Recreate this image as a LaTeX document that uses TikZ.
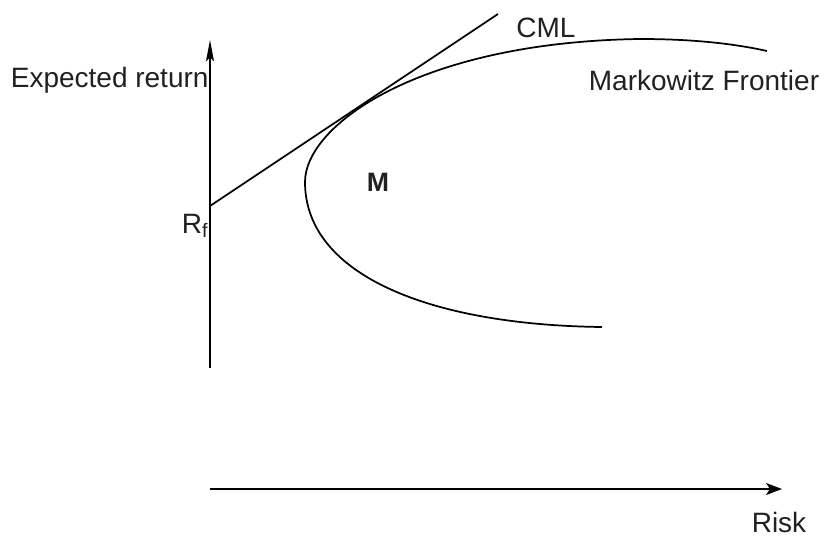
\documentclass[tikz,border=0pt]{standalone}
\usepackage{fontspec}
\setmainfont{Liberation Sans}
\usepackage{xcolor}
\usepackage{tikz}
\usetikzlibrary{arrows.meta,positioning,calc}

\definecolor{labelgray}{gray}{0.13}

\begin{document}
\begin{tikzpicture}[x=0.75pt, y=-0.75pt,
  line width=1.3pt,
  lbl/.style={text=labelgray, inner sep=0pt, font=\fontsize{21}{25}\selectfont},
  yaxis/.style={-{Stealth[length=16pt, width=6pt, inset=3pt]}},
  xaxis/.style={-{Stealth[length=12pt, width=9pt, inset=3pt]}}]
\useasboundingbox (0,0) rectangle (825,539);
% axes
\coordinate (ybot) at (210,368);
\coordinate (ytop) at (210,40);
\coordinate (xleft) at (210,489);
\coordinate (xright) at (782,489);
\draw[yaxis] (ybot) -- (ytop);
\draw[xaxis] (xleft) -- (xright);
\node[lbl, anchor=west] (ret) at (10,80) {Expected return};
\node[lbl] (risk) at (779,522) {Risk};
% risk free rate and capital market line
\coordinate (rf) at (210,206);
\coordinate (cmlend) at (498,14);
\draw (rf) -- (cmlend);
\node[lbl, anchor=east] (rflbl) at (209,226) {R\textsubscript{f}};
\node[lbl] (cml) at (546,28) {CML};
% efficient frontier
\coordinate (vertex) at (305,182);
\coordinate (ftop) at (767,51);
\coordinate (fbot) at (602,327);
\draw (fbot) .. controls (430,325) and (305,275) .. (vertex)
  .. controls (305,125) and (420,42) .. (640,39)
  .. controls (700,39) and (740,45) .. (ftop);
\node[lbl] (mkw) at (704,80) {Markowitz Frontier};
\node[lbl, font=\fontsize{20}{24}\selectfont\bfseries] (mkt) at (378,182) {M};
\end{tikzpicture}
\end{document}
